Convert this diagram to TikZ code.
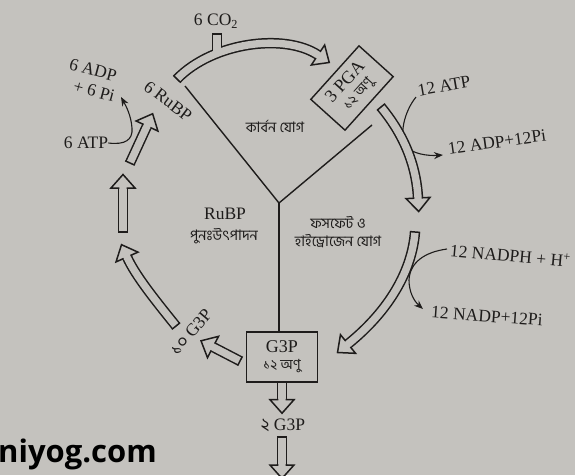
\documentclass[tikz,border=0pt]{standalone}
\usepackage{fontspec}
\setmainfont{Liberation Serif}
\newfontfamily\bn[Script=Bengali]{Hind Siliguri}
\newfontfamily\wm{Open Sans}
\usetikzlibrary{arrows.meta,decorations.markings}
\definecolor{bg}{RGB}{196,194,190}
\definecolor{ink}{RGB}{30,28,27}
\tikzset{
 lab/.style={font=\fontsize{17.5}{19}\selectfont, text=ink, inner sep=0pt},
 bnlab/.style={font=\bn\fontsize{14.5}{18}\selectfont, text=ink, inner sep=0pt},
 hollow/.style={draw=bg, line width=7.4pt, preaction={draw=ink, line width=10.4pt},
   postaction={decorate, decoration={markings,
     mark=at position 0 with {\draw[draw=ink, line width=1.5pt, line cap=rect] (0,-4.45) -- (0,4.45);},
     mark=at position 1 with {\draw[draw=ink, fill=bg, line width=1.5pt, line join=miter] (-0.9,4.45) -- (0,4.45) -- (0,12) -- (13.5,0) -- (0,-12) -- (0,-4.45) -- (-0.9,-4.45);}}}},
 thinarrow/.style={draw=ink, line width=1.1pt, -{Stealth[length=9pt,width=7pt]}},
 plainline/.style={draw=ink, line width=1.4pt},
 boxnode/.style={draw=ink, line width=1.4pt, align=center, font=\fontsize{18}{18}\selectfont, text=ink, inner sep=0pt},
}
\begin{document}
\begin{tikzpicture}[x=1pt,y=-1pt]
\useasboundingbox (0,0) rectangle (575,475);
\fill[bg] (0,0) rectangle (575,475);

% boxes
\node[boxnode, minimum width=72pt, minimum height=46pt, rotate=48] (pga) at (352,88) {3 PGA\\[-1pt]{\bn\fontsize{14}{15}\selectfont ১২ অণু}};
\node[boxnode, minimum width=71pt, minimum height=50pt] (g3p) at (282,357) {G3P\\[-1pt]{\bn\fontsize{14}{15}\selectfont ১২ অণু}};

% Y lines
\coordinate (Y) at (279,203);
\coordinate (Yl) at (185,86);
\coordinate (Yr) at (372,125);
\draw[plainline] (Yl) -- (Y) -- (Yr);
\draw[plainline] (Y) -- (Y |- g3p.north);

% labels
\node[lab] (co2) at (216,21) {6 CO\textsubscript{2}};
\node[lab, rotate=-37] (rubp6) at (168,101) {6 RuBP};
\node[lab, rotate=-15] (adp6) at (93,70) {6 ADP};
\node[lab, rotate=-15] (pi6) at (94,91) {+ 6 Pi};
\node[lab] (atp6) at (86,143) {6 ATP};
\node[lab, rotate=10] (atp12) at (444,86) {12 ATP};
\node[lab, rotate=8] (adp12) at (497,142) {12 ADP+12Pi};
\node[lab, rotate=-5, anchor=west] (nadph) at (450,250) {12 NADPH + H\textsuperscript{+}};
\node[lab, rotate=-4] (nadp) at (487,316) {12 NADP+12Pi};
\node[lab, rotate=50] (g3p10) at (191,332) {{\bn ১০} G3P};
\node[lab] (g3p2) at (283,425) {{\bn ২} G3P};
\node[bnlab] (carb) at (275,126) {কার্বন যোগ};
\node[lab] (rubp) at (225,214) {RuBP};
\node[bnlab] (regen) at (224,236) {পুনঃউৎপাদন};
\node[bnlab, align=center] (phos) at (338,232) {ফসফেট ও\\হাইড্রোজেন যোগ};
\node[font=\wm\bfseries\fontsize{31}{33}\selectfont, text=black, anchor=base west, inner sep=0pt] (wmk) at (-2,462) {niyog.com};

% thin arrows
\coordinate (atpin) at (416,97);
\coordinate (nadin) at (447,249);
\draw[thinarrow] (atp6.east) .. controls (125,145) and (133,140) .. (132,128) .. controls (131,115) and (126,106) .. (121,97);
\draw[thinarrow] (atpin) .. controls (404,112) and (399,135) .. (406,146) .. controls (412,154) and (428,156) .. (443,155);
\draw[thinarrow] (nadin) .. controls (425,252) and (410,262) .. (409,280) .. controls (409,292) and (414,301) .. (423,309);

% top arrow with CO2 stub
\draw[ink, line width=10.4pt] (217,54) -- (217,33);
\draw[hollow] (177,79) .. controls (213,42) and (285,33) .. (318,55);
\draw[bg, line width=7.4pt] (217,54) -- (217,34.5);

% right arrows
\draw[hollow] (381,107) .. controls (400,130) and (416,160) .. (418,198);
\draw[hollow] (415,232) .. controls (412,270) and (390,310) .. (348,344);
% out of G3P
\draw[hollow] (240,361) -- (213,347);
% left side
\draw[hollow] (176,326) .. controls (155,300) and (135,275) .. (127,257);
\draw[hollow] (123,232) -- (123,188);
\draw[hollow] (130,163) -- (147,126);
% down
\draw[hollow] (g3p.south) -- ++(0,17);
\draw[hollow] (282,437) -- (282,465);
\end{tikzpicture}
\end{document}
